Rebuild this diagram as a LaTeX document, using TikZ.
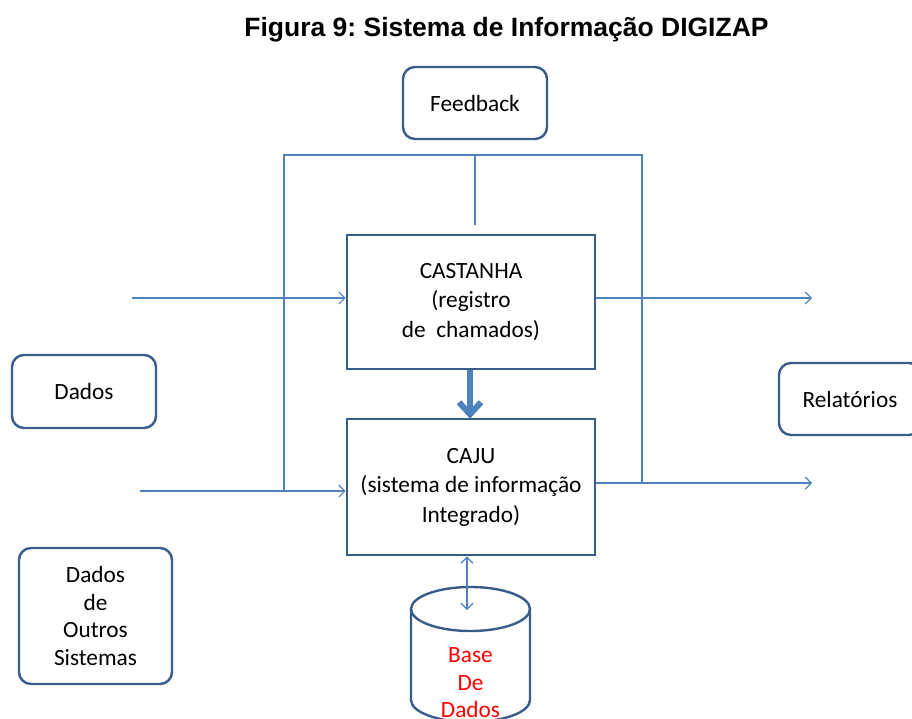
\documentclass[tikz,border=0pt]{standalone}
\usepackage{fontspec}
\setmainfont{Carlito}
\newfontfamily\titlefont{Liberation Sans}
\usetikzlibrary{arrows.meta}
\definecolor{boxline}{RGB}{56,93,138}
\definecolor{flow}{RGB}{79,129,189}
\frenchspacing
\begin{document}
\begin{tikzpicture}[x=1pt,y=-1pt,
  txt/.style={font=\fontsize{23.3}{29.5}\selectfont, align=center, text=black, inner sep=0pt},
  roundbox/.style={txt, font=\fontsize{23.3}{27.7}\selectfont, draw=boxline, line width=2.4pt, rounded corners=12pt},
  procbox/.style={txt, draw=boxline, line width=2.6pt},
  flowline/.style={draw=flow, line width=1.2pt},
  flowarrow/.style={flowline, -{Straight Barb[length=6pt,width=12pt]}},
  bigarrow/.style={draw=flow, line width=6pt, -{Straight Barb[length=12pt,width=22pt]}},
]
\useasboundingbox (0,0) rectangle (912,718);

% title
\node[font=\titlefont\bfseries\fontsize{26.5}{30}\selectfont] (title) at (506.5,30)
  {Figura 9: Sistema de Informação DIGIZAP};

% boxes
\node[roundbox, minimum width=144pt, minimum height=72pt] (fb) at (475,103) {Feedback};
\node[roundbox, minimum width=144pt, minimum height=73pt] (dados) at (84,391.5) {Dados};
\node[roundbox, minimum width=153pt, minimum height=136pt] (outros) at (95.5,616)
  {Dados\\de\\Outros\\Sistemas};
\node[roundbox, minimum width=142pt, minimum height=72pt] (rel) at (850,399) {Relatórios};

\node[procbox, minimum width=248pt, minimum height=134pt] (cas) at (471,302)
  {CASTANHA\\(registro\\de\ \ chamados)};
\node[procbox, minimum width=248pt, minimum height=136pt] (caju) at (471,487)
  {CAJU\\(sistema de informação\\Integrado)};

% database cylinder
\draw[boxline, line width=2.4pt] (411,609) -- (411,700)
  arc[start angle=180, end angle=0, x radius=59.5, y radius=22] -- (530,609);
\draw[boxline, line width=2.4pt] (470.5,609) ellipse [x radius=59.5, y radius=22];
\node[txt, font=\fontsize{23.3}{27.5}\selectfont, text=red] (db) at (470.5,683) {Base\\De\\Dados};

% feedback frame
\coordinate (fbL) at (284,155);
\coordinate (fbR) at (642,155);
\coordinate (fbM) at (475,155);
\coordinate (fbStub) at (475,225);
\coordinate (inA) at (132,298);
\coordinate (outA) at (812,298);
\coordinate (inB) at (140,491);
\coordinate (outB) at (812,483);
\coordinate (dbin) at (467,610);

\draw[flowline] (fbL |- inB) -- (fbL) -- (fbR) -- (fbR |- outB);
\draw[flowline] (fbM) -- (fbStub);

% flows
\draw[flowarrow] (inA) -- (inA -| cas.west);
\draw[flowarrow] (cas.east |- outA) -- (outA);
\draw[flowarrow] (inB) -- (inB -| caju.west);
\draw[flowarrow] (caju.east |- outB) -- (outB);
\draw[bigarrow] ([xshift=-1pt]cas.south) -- ([xshift=-1pt,yshift=-1pt]caju.north);
\draw[flowline, {Straight Barb[length=6pt,width=12pt]}-{Straight Barb[length=6pt,width=12pt]}]
  (dbin |- caju.south) -- (dbin);
\end{tikzpicture}
\end{document}
